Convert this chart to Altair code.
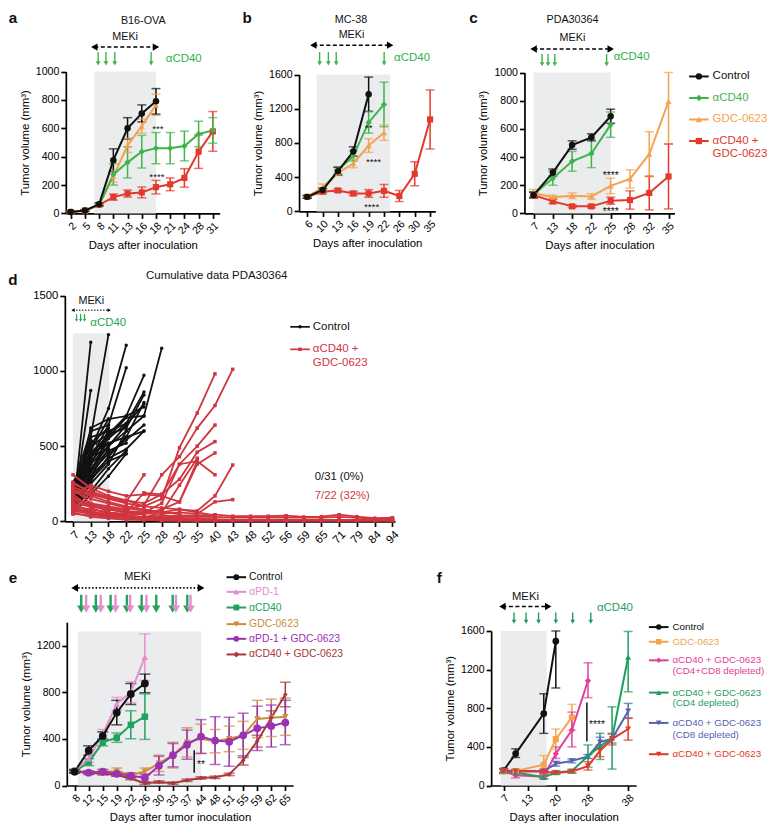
import altair as alt
import pandas as pd

# ============================ DATA ============================
# a  B16-OVA  (mean, SEM)
A_DAYS = ["2", "5", "8", "11", "13", "16", "18", "21", "24", "28", "31"]
A_NAMES = ["Control", "αCD40", "GDC-0623", "αCD40 + GDC-0623"]
A_MEAN = [
    [10, 20, 65, 375, 600, 705, 790],
    [10, 20, 60, 275, 360, 435, 460, 460, 475, 560, 585],
    [10, 20, 60, 260, 480, 615, 765],
    [10, 20, 60, 115, 140, 148, 185, 205, 250, 435, 578],
]
A_ERR = [
    [5, 6, 10, 80, 75, 60, 90],
    [5, 6, 10, 75, 110, 115, 110, 110, 105, 90, 90],
    [5, 6, 10, 40, 50, 50, 75],
    [5, 6, 10, 22, 25, 38, 48, 45, 65, 118, 140],
]

# b  MC-38
B_DAYS = ["6", "10", "13", "16", "19", "22", "26", "30", "35"]
B_NAMES = A_NAMES
B_MEAN = [
    [170, 250, 470, 700, 1370],
    [170, 250, 480, 650, 1040, 1250],
    [170, 280, 450, 560, 770, 920],
    [170, 230, 245, 210, 210, 240, 180, 440, 1075],
]
B_ERR = [
    [15, 20, 45, 55, 200],
    [15, 20, 40, 60, 125, 260],
    [15, 40, 30, 50, 80, 90],
    [15, 25, 20, 25, 45, 75, 65, 140, 345],
]

# c  PDA30364
C_DAYS = ["7", "13", "18", "22", "25", "28", "32", "35"]
C_NAMES = A_NAMES
C_MEAN = [
    [130, 290, 485, 540, 690],
    [135, 250, 370, 425, 630],
    [145, 115, 125, 120, 195, 245, 420, 795],
    [130, 85, 50, 50, 90, 95, 145, 262],
]
C_ERR = [
    [20, 25, 30, 25, 50],
    [20, 50, 70, 100, 90],
    [25, 15, 20, 20, 55, 65, 160, 300],
    [20, 15, 10, 10, 25, 65, 120, 230],
]

# d  cumulative individual tumours PDA30364
D_DAYS = ["7", "13", "18", "22", "25", "28", "32", "35", "40", "43",
          "48", "52", "56", "59", "65", "71", "79", "84", "94"]
D_GROUPS = ["Control", "αCD40 + GDC-0623"]
D_CONTROL = [
    [55, 1190], [75, 870], [95, 560, 1240], [130, 480, 750, 1170],
    [150, 420, 640, 1020], [110, 620, 680, 700, 970], [200, 560, 600, 650, 860],
    [240, 500, 580, 620, 840], [180, 450, 520, 560, 790], [160, 380, 500, 600, 700],
    [220, 330, 450, 540, 640], [140, 300, 420, 480, 600], [260, 460, 560, 690, 700, 1150],
    [120, 350, 470, 520], [90, 280, 400, 450], [70, 250, 380, 600], [180, 420, 550, 650],
    [100, 380, 600], [60, 300, 480], [200, 520, 620], [150, 470, 680], [80, 330, 560],
    [230, 600, 640], [130, 400, 520], [170, 540, 460], [110, 260, 620], [90, 200, 350, 470],
    [50, 180, 300, 450], [140, 350, 500, 640, 780], [210, 440, 580, 700, 760],
    [120, 270, 430, 560, 600],
]
D_TREATED = [
    [230, 180, 150, 120, 100, 150, 490, 720, 980],
    [150, 120, 100, 80, 110, 310, 430, 620, 770, 1010],
    [310, 220, 170, 140, 120, 180, 380, 500, 640],
    [120, 100, 80, 60, 190, 180, 280, 460, 530],
    [260, 190, 160, 130, 310],
    [100, 80, 60, 50, 60, 120, 380, 400, 310],
    [90, 60, 50, 40, 50, 80, 130, 380, 455],
    [140, 100, 80, 60, 50, 60, 80, 70, 170, 375],
    [80, 60, 40, 30, 30, 50, 60, 50, 130, 145],
    [200, 150, 120, 90, 70, 60, 240, 420],
    [180, 240, 200, 170, 180, 170, 130, 400],
    [250, 200, 160, 140, 100, 90, 80, 60, 40],
    [70, 50, 40, 30, 20, 10, 10, 5],
    [160, 110, 90, 70, 60, 40, 30, 40, 30],
    [210, 170, 130, 100, 80, 60, 50],
    [120, 60, 40, 30, 30, 30, 40, 40, 45, 35, 35, 35, 38, 30, 32, 45, 32, 22, 25],
    [90, 50, 30, 25, 25, 25, 30, 30, 30, 25, 25, 25, 25, 25, 25, 30, 25, 15, 20],
    [60, 30, 20, 10, 10, 8, 5, 5, 5, 5, 5, 5, 5, 5, 5, 5, 5, 5, 5],
    [180, 90, 50, 20, 10, 5, 5, 5, 5, 5, 5, 5, 5, 5, 5, 5, 5, 5, 5],
    [110, 70, 40, 30, 20, 15, 10, 10, 10, 8, 8, 8, 8, 8, 8, 8, 8, 8, 8],
    [220, 120, 60, 40, 30, 20, 20, 20, 15, 10, 10, 10, 10, 10, 10, 10, 10, 10, 10],
    [50, 40, 30, 20, 15, 10, 10, 10, 10, 10, 10, 10, 10, 10, 10, 10, 10, 10, 10],
]

# e
E_DAYS = ["8", "12", "15", "19", "22", "26", "30", "33", "37", "44",
          "48", "51", "55", "59", "62", "65"]
E_NAMES = ["Control", "αPD-1", "αCD40", "GDC-0623", "αPD-1 + GDC-0623", "αCD40 + GDC-0623"]
E_MEAN = [
    [120, 300, 425, 625, 785, 875],
    [130, 230, 440, 700, 800, 1100],
    [120, 200, 370, 410, 520, 590],
    [130, 110, 120, 120, 90, 120, 190, 260, 370, 400, 380, 400, 430, 570, 580, 590],
    [120, 110, 120, 100, 85, 65, 170, 260, 350, 420, 385, 375, 430, 490, 510, 540],
    [120, 110, 100, 90, 60, 20, 30, 20, 45, 65, 70, 95, 215, 380, 580, 780],
]
E_ERR = [
    [12, 40, 35, 105, 90, 80],
    [12, 30, 40, 55, 90, 200],
    [12, 30, 30, 40, 120, 195],
    [12, 15, 20, 30, 20, 30, 70, 110, 125, 125, 100, 110, 120, 160, 160, 160],
    [12, 15, 15, 20, 20, 35, 80, 100, 125, 145, 205, 210, 190, 190, 180, 190],
    [10, 10, 10, 10, 10, 10, 10, 10, 10, 10, 10, 10, 40, 50, 60, 105],
]

# f
F_DAYS = [7, 10, 17, 20, 24, 28, 31, 34, 38]
F_TICKS = [7, 13, 20, 28, 38]
F_NAMES = ["Control", "GDC-0623", "CD4+CD8 depleted", "CD4 depleted", "CD8 depleted",
           "αCD40 + GDC-0623"]
F_MEAN = [
    [155, 330, 745, 1495],
    [150, 150, 215, 480, 705],
    [150, 105, 92, 330, 575, 1085],
    [150, 135, 85, 135, 150, 305, 405, 490, 1330],
    [155, 150, 150, 225, 255, 300, 450, 485, 770],
    [150, 145, 145, 130, 145, 200, 360, 480, 585],
]
F_LOW = [
    [135, 290, 540, 1010],
    [120, 130, 120, 375, 570],
    [130, 80, 70, 280, 400, 910],
    [130, 120, 70, 115, 130, 190, 270, 170, 970],
    [135, 135, 130, 200, 235, 280, 400, 440, 700],
    [130, 130, 130, 115, 130, 160, 300, 420, 470],
]
F_HIGH = [
    [175, 380, 950, 1600],
    [180, 170, 310, 585, 840],
    [170, 130, 115, 400, 760, 1270],
    [170, 150, 100, 155, 170, 420, 540, 815, 1595],
    [175, 165, 170, 250, 275, 320, 500, 530, 850],
    [170, 160, 160, 145, 160, 245, 420, 540, 695],
]

# treatment schedules (in axis units of each panel)
A_DOSES = [1.93, 2.48, 3.1, 5.66]
B_DOSES = [0.81, 1.38, 1.89, 5.01]
C_DOSES = [0.44, 0.75, 1.1, 3.79]
D_DOSES = [0.2, 0.43, 0.65]
E_CD40_DOSES = [0.47, 1.51, 2.56, 3.72, 4.77, 5.81, 6.98, 8.02]
E_PD1_DOSES = [0.82, 1.86, 2.91, 3.95, 5.11, 7.21, 8.25]
F_DOSES = [9.6, 12.6, 15.7, 20.0, 24.2, 28.7]

# ============================ STYLE / LAYOUT ============================
SX, SY = 0.98, 0.978
W, H = 761, 820
FS = 0.98
FONT = "Liberation Sans"


def X(rx):
    return round((rx - 2.0) * SX, 2)


def Y(ry):
    return round((ry - 3.0) * SY, 2)


BLACK = "#111111"
GREEN = "#3db54a"
GREEN_T = "#2fb04d"
ORANGE = "#f3a24f"
RED = "#e2392b"
DRED = "#d0363f"
GREY = "#ebecee"
PINK = "#e38fcf"
EGREEN = "#21a35c"
EBROWN = "#cf8a3a"
PURPLE = "#9b31b3"
BRED = "#a8383a"
FORANGE = "#f6a24d"
MAGENTA = "#e0409c"
FGREEN = "#1f9d5f"
BLUE = "#5562b0"
FRED = "#e5382a"

YT = "Tumor volume (mm³)"
GEO = {
    "a": dict(days=A_DAYS, x0=61, x1=218, t0=66, t1=211, y0=68, y1=213, ymax=1000,
              yticks=[0, 200, 400, 600, 800, 1000], xtitle="Days after inoculation", ytitle=YT),
    "b": dict(days=B_DAYS, x0=299, x1=438, t0=307.3, t1=432.7, y0=71, y1=211, ymax=1600,
              yticks=[0, 400, 800, 1200, 1600], xtitle="Days after inoculation", ytitle=YT),
    "c": dict(days=C_DAYS, x0=529, x1=682, t0=538.3, t1=676, y0=69, y1=213, ymax=1000,
              yticks=[0, 200, 400, 600, 800, 1000], xtitle="Days after inoculation", ytitle=YT),
    "d": dict(days=D_DAYS, x0=60, x1=397, t0=68.3, t1=394.3, y0=297, y1=528, ymax=1500,
              yticks=[0, 500, 1000, 1500], xtitle=None, ytitle=None, lfs=11.5),
    "e": dict(days=E_DAYS, x0=62, x1=293, t0=70, t1=285, y0=631, y1=798, ymax=1400,
              yticks=[0, 400, 800, 1200], xtitle="Days after tumor inoculation", ytitle=YT),
    "f": dict(x0=495, x1=643, y0=640, y1=798, ymax=1600, xdom=[3.9, 40], xticks=F_TICKS,
              yticks=[0, 400, 800, 1200, 1600], xtitle="Days after inoculation", ytitle=YT),
}


def label_expr(days):
    return "[" + ",".join("'%s'" % d for d in days) + "][round(datum.value)]"


def make_scales(g):
    if "days" in g:
        n = len(g["days"])
        step = (g["t1"] - g["t0"]) / (n - 1)
        dom = [(g["x0"] - g["t0"]) / step, (n - 1) + (g["x1"] - g["t1"]) / step]
    else:
        dom = g["xdom"]
    xs = alt.Scale(domain=dom, range=[X(g["x0"]), X(g["x1"])], nice=False, zero=False)
    ys = alt.Scale(domain=[0, g["ymax"]], range=[Y(g["y1"]), Y(g["y0"])], nice=False, zero=False)
    return xs, ys


def make_axes(g):
    style = dict(grid=False, domainColor="black", tickColor="black", labelColor="black",
                 titleColor="black", domainWidth=1.7, tickWidth=1.7, tickSize=5,
                 labelFont=FONT, titleFont=FONT, labelFontSize=g.get("lfs", 10.8) * FS,
                 titleFontSize=11.6 * FS, titleFontWeight="normal", labelFlush=False,
                 labelOverlap=False, labelPadding=2, format="d")
    xkw = dict(style, orient="bottom", offset=Y(g["y1"]) - H, labelAngle=-45,
               titlePadding=3, title=g["xtitle"])
    if "days" in g:
        xkw["values"] = list(range(len(g["days"])))
        xkw["labelExpr"] = label_expr(g["days"])
    else:
        xkw["values"] = g["xticks"]
    ykw = dict(style, orient="left", offset=-X(g["x0"]), values=g["yticks"],
               title=g["ytitle"], titlePadding=5)
    return alt.Axis(**xkw), alt.Axis(**ykw)


def encoders(g):
    xs, ys = make_scales(g)
    ax, ay = make_axes(g)

    def ex(f):
        return alt.X(f + ":Q", scale=xs, axis=ax)

    def ey(f):
        return alt.Y(f + ":Q", scale=ys, axis=ay)
    return ex, ey


def shade(ex, ey, a, b, top):
    d = pd.DataFrame({"a": [a], "b": [b], "lo": [0], "hi": [top]})
    return alt.Chart(d).mark_rect(color=GREY).encode(x=ex("a"), x2="b", y=ey("lo"), y2="hi")


def meki(ex, a, b, ry, dash, width, head):
    d = pd.DataFrame({"a": [a], "b": [b]})
    yv = alt.value(Y(ry))
    line = alt.Chart(d).mark_rule(color="black", strokeWidth=width, strokeDash=dash).encode(
        x=ex("a"), x2="b", y=yv)
    left = alt.Chart(d).mark_point(shape="triangle-left", filled=True, color="black",
                                   size=head, opacity=1).encode(x=ex("a"), y=yv)
    right = alt.Chart(d).mark_point(shape="triangle-right", filled=True, color="black",
                                    size=head, opacity=1).encode(x=ex("b"), y=yv)
    return [line, left, right]


def arrows(ex, pos, ry0, ry1, color, width, head):
    d = pd.DataFrame({"g": pos})
    r = (head ** 0.5) / 2
    yc = Y(ry1) - r
    line = alt.Chart(d).mark_rule(color=color, strokeWidth=width).encode(
        x=ex("g"), y=alt.value(Y(ry0)), y2=alt.value(yc))
    tri = alt.Chart(d).mark_point(shape="triangle-down", filled=True, color=color,
                                  size=head, opacity=1).encode(x=ex("g"), y=alt.value(yc))
    return [line, tri]


def stat_layers(g, ex, ey, names, means, colors, shapes, msizes, errs=None, lows=None,
                highs=None, xvals=None, cap=9, lw=2.0, draw_order=None):
    rows = []
    order = draw_order if draw_order is not None else list(reversed(range(len(names))))
    for k in order:
        for i, v in enumerate(means[k]):
            xv = i if xvals is None else xvals[i]
            if errs is not None:
                lo, hi = v - errs[k][i], v + errs[k][i]
            else:
                lo, hi = lows[k][i], highs[k][i]
            rows.append(dict(s=names[k], x=xv, v=v, lo=max(lo, 0), hi=min(hi, g["ymax"]),
                             ms=msizes[k]))
    df = pd.DataFrame(rows)
    col = alt.Color("s:N", scale=alt.Scale(domain=names, range=colors), legend=None)
    shp = alt.Shape("s:N", scale=alt.Scale(domain=names, range=shapes), legend=None)
    base = alt.Chart(df)
    return [
        base.mark_rule(strokeWidth=1.5).encode(x=ex("x"), y=ey("lo"), y2="hi", color=col),
        base.mark_tick(orient="horizontal", size=cap, thickness=1.5).encode(
            x=ex("x"), y=ey("lo"), color=col),
        base.mark_tick(orient="horizontal", size=cap, thickness=1.5).encode(
            x=ex("x"), y=ey("hi"), color=col),
        base.mark_line(strokeWidth=lw).encode(x=ex("x"), y=ey("v"), color=col, detail="s:N",
                                              order="x:Q"),
        base.mark_point(filled=True, opacity=1).encode(
            x=ex("x"), y=ey("v"), color=col, shape=shp,
            size=alt.Size("ms:Q", scale=None, legend=None)),
    ]


ABC_COLORS = [BLACK, GREEN, ORANGE, RED]
ABC_SHAPES = ["circle", "diamond", "triangle-up", "square"]
ABC_SIZES = [42, 40, 36, 38]

# ---- panel a
g = GEO["a"]
ex, ey = encoders(g)
panel_a = alt.layer(
    shade(ex, ey, 1.66, 6.0, 1000),
    *stat_layers(g, ex, ey, A_NAMES, A_MEAN, ABC_COLORS, ABC_SHAPES, ABC_SIZES, errs=A_ERR),
    *meki(ex, 1.66, 6.0, 43, [4, 2.5], 1.5, 55),
    *arrows(ex, A_DOSES, 48, 62, GREEN, 1.4, 22),
)

# ---- panel b
g = GEO["b"]
ex, ey = encoders(g)
panel_b = alt.layer(
    shade(ex, ey, 0.62, 5.4, 1600),
    *stat_layers(g, ex, ey, B_NAMES, B_MEAN, ABC_COLORS, ABC_SHAPES, ABC_SIZES, errs=B_ERR),
    *meki(ex, 0.4, 5.4, 41, [4, 2.5], 1.5, 55),
    *arrows(ex, B_DOSES, 48, 62, GREEN, 1.4, 22),
)

# ---- panel c
g = GEO["c"]
ex, ey = encoders(g)
panel_c = alt.layer(
    shade(ex, ey, 0.0, 4.0, 1000),
    *stat_layers(g, ex, ey, C_NAMES, C_MEAN, ABC_COLORS, ABC_SHAPES, ABC_SIZES, errs=C_ERR),
    *meki(ex, 0.0, 4.0, 45, [4, 2.5], 1.5, 55),
    *arrows(ex, C_DOSES, 50, 63, GREEN, 1.4, 22),
)

# ---- panel d
g = GEO["d"]
ex, ey = encoders(g)
rows = []
for grp, curves in ((D_GROUPS[0], D_CONTROL), (D_GROUPS[1], D_TREATED)):
    for k, vals in enumerate(curves):
        for i, v in enumerate(vals):
            rows.append(dict(grp=grp, m="%s-%d" % (grp, k), x=i, v=v))
d_df = pd.DataFrame(rows)
d_col = alt.Color("grp:N", scale=alt.Scale(domain=D_GROUPS, range=[BLACK, DRED]), legend=None)
d_shp = alt.Shape("grp:N", scale=alt.Scale(domain=D_GROUPS, range=["circle", "square"]),
                  legend=None)
panel_d = alt.layer(
    shade(ex, ey, 0.0, 2.04, 1250),
    alt.Chart(d_df).mark_line(strokeWidth=1.8).encode(x=ex("x"), y=ey("v"), color=d_col,
                                                     detail="m:N", order="x:Q"),
    alt.Chart(d_df).mark_point(filled=True, size=12, opacity=1).encode(
        x=ex("x"), y=ey("v"), color=d_col, shape=d_shp),
    *meki(ex, 0.0, 2.04, 312, [1.5, 1.5], 1.0, 14),
    *arrows(ex, D_DOSES, 316, 324, "#2aa55a", 1.2, 10),
)

# ---- panel e
g = GEO["e"]
ex, ey = encoders(g)
panel_e = alt.layer(
    shade(ex, ey, 0.23, 9.0, 1320),
    *stat_layers(g, ex, ey, E_NAMES, E_MEAN, [BLACK, PINK, EGREEN, EBROWN, PURPLE, BRED],
                 ["circle", "triangle-up", "square", "triangle-down", "circle", "diamond"],
                 [60, 45, 42, 40, 60, 22], errs=E_ERR, cap=11,
                 draw_order=[3, 5, 4, 2, 1, 0]),
    *meki(ex, 0.0, 9.0, 596, [1.5, 2], 1.8, 60),
    *arrows(ex, E_CD40_DOSES, 603, 622, EGREEN, 2.4, 70),
    *arrows(ex, E_PD1_DOSES, 603, 622, PINK, 2.4, 70),
)

# ---- panel f
g = GEO["f"]
ex, ey = encoders(g)
panel_f = alt.layer(
    shade(ex, ey, 6.3, 17.7, 1600),
    *stat_layers(g, ex, ey, F_NAMES, F_MEAN, [BLACK, FORANGE, MAGENTA, FGREEN, BLUE, FRED],
                 ["circle", "square", "diamond", "triangle-up", "triangle-down", "triangle-down"],
                 [45, 38, 40, 36, 36, 36], lows=F_LOW, highs=F_HIGH,
                 xvals=F_DAYS, cap=9, draw_order=[0, 1, 2, 4, 3, 5]),
    *meki(ex, 6.7, 18.1, 615, [4, 2.5], 1.5, 55),
    *arrows(ex, F_DOSES, 621, 633, FGREEN, 1.4, 22),
)

# ============================ annotations & legends ============================
TXT_C = [
    ("B16-OVA", 140, 16, BLACK, 11), ("MEKi", 121.5, 33, BLACK, 11),
    ("MC-38", 352, 15, BLACK, 11), ("MEKi", 352.5, 31, BLACK, 11),
    ("PDA30364", 578, 15, BLACK, 11), ("MEKi", 578, 34, BLACK, 11),
    ("Cumulative data PDA30364", 215, 277, BLACK, 11.7), ("MEKi", 87, 303, BLACK, 11),
    ("MEKi", 134, 585, BLACK, 11.5), ("MEKi", 530, 605, BLACK, 11.5),
    ("***", 155, 127, BLACK, 10), ("****", 154, 176, BLACK, 10),
    ("**", 370, 126, BLACK, 10), ("****", 375, 160, BLACK, 10), ("****", 373, 206, BLACK, 10),
    ("****", 617, 175, BLACK, 10.5), ("****", 617, 212, BLACK, 10.5),
    ("**", 199, 777, BLACK, 10.5), ("****", 603, 736, BLACK, 10.5),
]
TXT_L = [
    ("αCD40", 163, 55, GREEN_T, 11.7), ("αCD40", 396, 54, GREEN_T, 11.7),
    ("αCD40", 620, 53, GREEN_T, 11.7), ("αCD40", 86, 325, "#2aa55a", 11.7),
    ("αCD40", 603, 617, FGREEN, 11.7),
    ("0/31 (0%)", 315, 483, BLACK, 11.5), ("7/22 (32%)", 315, 502, DRED, 11.5),
]
LETTERS = [("a", 7, 13), ("b", 246, 13), ("c", 477, 13), ("d", 7, 281), ("e", 7, 586),
           ("f", 442, 586)]

LEGENDS = [
    # entries, rows, (line x0, line x1, marker x, text x, font, marker size, line width)
    ([("Control", BLACK, "circle"), ("αCD40", GREEN, "diamond"),
      ("GDC-0623", ORANGE, "triangle-up"), ("αCD40 +", RED, "square"), ("GDC-0623", RED, None)],
     [73, 95, 117, 139, 152], (697, 717, 707, 721, 11.7, 40, 2)),
    ([("Control", BLACK, "circle"), ("αCD40 +", DRED, "square"), ("GDC-0623", DRED, None)],
     [329, 352, 366], (290, 310, 300, 313, 11.7, 12, 1.7)),
    ([("Control", BLACK, "circle"), ("αPD-1", PINK, "triangle-up"), ("αCD40", EGREEN, "square"),
      ("GDC-0623", EBROWN, "triangle-down"), ("αPD-1 + GDC-0623", PURPLE, "circle"),
      ("αCD40 + GDC-0623", BRED, "diamond")],
     [585, 600, 616, 633, 648, 664], (225, 245, 235, 248, 10.6, 34, 2)),
    ([("Control", BLACK, "circle"), ("GDC-0623", FORANGE, "square"),
      ("αCD40 + GDC-0623", MAGENTA, "diamond"), ("(CD4+CD8 depleted)", MAGENTA, None),
      ("αCD40 + GDC-0623", FGREEN, "triangle-up"), ("(CD4 depleted)", FGREEN, None),
      ("αCD40 + GDC-0623", BLUE, "triangle-down"), ("(CD8 depleted)", BLUE, None),
      ("αCD40 + GDC-0623", FRED, "triangle-down")],
     [636, 651, 670, 681, 703, 714, 734, 746, 766], (656, 676, 666, 680, 10.0, 30, 2)),
]
BARS = [(192, 762, 785), (592.7, 713, 753)]

rule_rows, sym_rows, txt_l_rows = [], [], []
for entries, ys_, (lx0, lx1, mx, tx, fs, ms, lw) in LEGENDS:
    for (label, color, shape), ry in zip(entries, ys_):
        txt_l_rows.append((label, tx, ry, color, fs))
        if shape is not None:
            rule_rows.append(dict(x=X(lx0), x2=X(lx1), y=Y(ry), y2=Y(ry), c=color, w=lw))
            sym_rows.append(dict(x=X(mx), y=Y(ry), c=color, shp=shape, sz=ms))
for bx, by0, by1 in BARS:
    rule_rows.append(dict(x=X(bx), x2=X(bx), y=Y(by0), y2=Y(by1), c=BLACK, w=1.5))


def px(f):
    return alt.X(f + ":Q", scale=None, axis=None)


def py(f):
    return alt.Y(f + ":Q", scale=None, axis=None)


rules_layer = alt.Chart(pd.DataFrame(rule_rows)).mark_rule().encode(
    x=px("x"), x2="x2", y=py("y"), y2="y2",
    color=alt.Color("c:N", scale=None, legend=None),
    strokeWidth=alt.StrokeWidth("w:Q", scale=None, legend=None))
syms_layer = alt.Chart(pd.DataFrame(sym_rows)).mark_point(filled=True, opacity=1).encode(
    x=px("x"), y=py("y"), color=alt.Color("c:N", scale=None, legend=None),
    shape=alt.Shape("shp:N", scale=None, legend=None),
    size=alt.Size("sz:Q", scale=None, legend=None))


def text_layer(items, align, bold=False):
    df = pd.DataFrame([dict(t=t, x=X(rx), y=Y(ry), c=c, fs=s * FS) for (t, rx, ry, c, s) in items])
    return alt.Chart(df).mark_text(align=align, baseline="middle", font=FONT,
                                   fontWeight="bold" if bold else "normal").encode(
        x=px("x"), y=py("y"), text="t:N",
        color=alt.Color("c:N", scale=None, legend=None),
        size=alt.Size("fs:Q", scale=None, legend=None))


txt_c_layer = text_layer(TXT_C, "center")
txt_l_layer = text_layer(TXT_L + txt_l_rows, "left")
letters_layer = text_layer([(t, rx, ry, BLACK, 15.5) for (t, rx, ry) in LETTERS], "center", True)

chart = alt.layer(
    panel_a, panel_b, panel_c, panel_d, panel_e, panel_f,
    rules_layer, syms_layer, txt_c_layer, txt_l_layer, letters_layer,
).resolve_scale(
    x="independent", y="independent", color="independent", shape="independent"
).resolve_axis(
    x="independent", y="independent"
).properties(
    width=W, height=H, autosize=alt.AutoSizeParams(type="none"), padding=0
).configure(font=FONT).configure_view(stroke=None)

chart.save("out.html", embed_options={"renderer": "svg", "actions": False})
